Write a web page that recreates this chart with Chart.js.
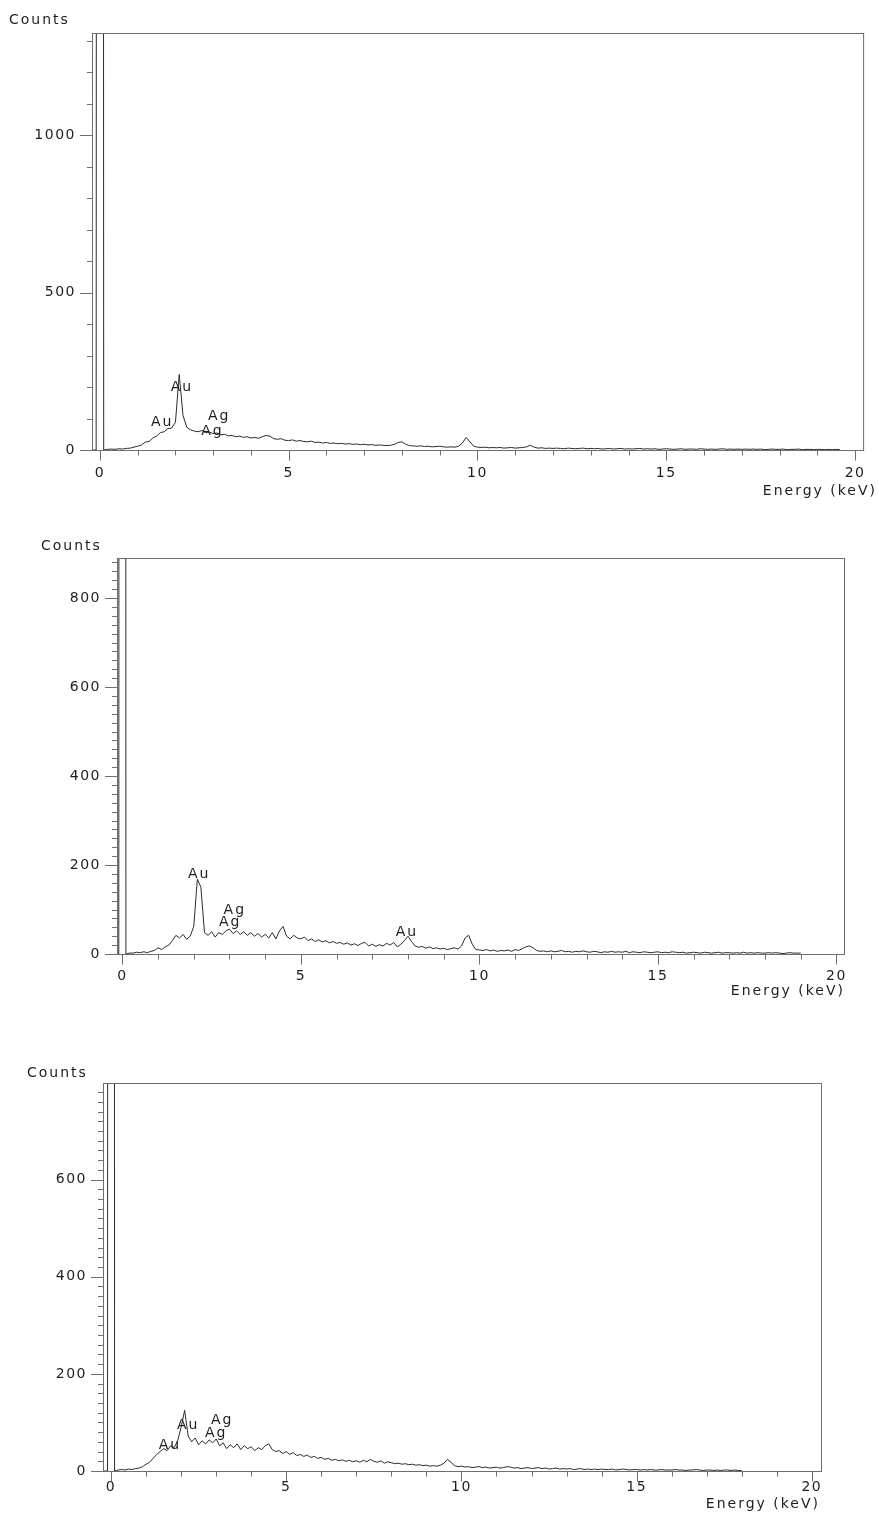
<!DOCTYPE html>
<html>
<head>
<meta charset="utf-8">
<script src="https://cdn.jsdelivr.net/npm/chart.js@4/dist/chart.umd.min.js"></script>
<style>
  body { margin: 0; background: #fff; }
  #wrap { position: relative; width: 879px; height: 1514px; overflow: hidden; }
  canvas { position: absolute; left: 0; }
  .title { position: absolute; font: 14px "DejaVu Sans", sans-serif; letter-spacing: 2px; color: #1e1e1e; white-space: nowrap; line-height: 16px; }
</style>
</head>
<body>
<div id="wrap">
  <canvas id="c1" width="879" height="510"></canvas>
  <canvas id="c2" width="879" height="490"></canvas>
  <canvas id="c3" width="879" height="474"></canvas>
  <div class="title" style="left:9px;top:11px">Counts</div>
  <div class="title" style="right:2px;top:482px">Energy (keV)</div>
  <div class="title" style="left:41px;top:537px">Counts</div>
  <div class="title" style="right:34px;top:982px">Energy (keV)</div>
  <div class="title" style="left:27px;top:1064px">Counts</div>
  <div class="title" style="right:59px;top:1495px">Energy (keV)</div>
</div>
<script>
// channel calibration: first channel energy and width (keV)
const startEnergy = -0.2;
const energyStep = 0.1;

// tick labels
const xLabels = [0, 5, 10, 15, 20];
const yLabels1 = [0, 500, 1000];
const yLabels2 = [0, 200, 400, 600, 800];
const yLabels3 = [0, 200, 400, 600];

// spectrum 1 (counts per 0.1 keV channel, from -0.2 keV)
const counts1 = [
  0, 0,
  30000, 0, 2, 3, 2, 4, 3, 5, 6, 9,
  12, 16, 25, 27, 38, 44, 55, 58, 68, 70,
  88, 240, 110, 72, 64, 60, 58, 62, 55, 57,
  52, 54, 48, 50, 45, 46, 42, 44, 40, 42,
  38, 40, 37, 42, 46, 44, 36, 34, 36, 31,
  30, 32, 28, 30, 27, 26, 28, 24, 25, 22,
  24, 21, 22, 20, 21, 19, 20, 18, 19, 17,
  18, 16, 17, 15, 16, 15, 14, 15, 18, 24,
  26, 18, 14, 13, 12, 13, 11, 12, 10, 11,
  12, 10, 9, 10, 9, 12, 22, 40, 26, 12,
  9, 8, 9, 7, 8, 7, 8, 6, 7, 8,
  6, 7, 8, 10, 15, 9, 6, 7, 5, 6,
  5, 6, 5, 4, 6, 5, 4, 5, 6, 4,
  5, 4, 5, 3, 4, 5, 3, 4, 5, 3,
  4, 3, 4, 5, 3, 4, 3, 4, 2, 3,
  4, 3, 2, 3, 4, 2, 3, 3, 2, 4,
  3, 2, 3, 2, 3, 4, 2, 3, 2, 3,
  2, 3, 2, 3, 2, 3, 1, 2, 3, 2,
  2, 3, 1, 2, 2, 3, 1, 2, 2, 1,
  2, 2, 1, 2, 1, 2, 1,
];

// spectrum 2
const counts2 = [
  0, 0,
  30000, 0, 2, 2, 4, 3, 5, 3, 6, 8,
  14, 10, 16, 20, 30, 42, 36, 44, 33, 40,
  62, 168, 150, 48, 42, 50, 38, 48, 44, 52,
  56, 46, 52, 44, 50, 42, 48, 40, 46, 38,
  44, 36, 48, 34, 52, 62, 40, 34, 42, 36,
  34, 38, 30, 34, 28, 32, 27, 30, 25, 28,
  24, 26, 22, 25, 20, 23, 19, 24, 26, 18,
  22, 17, 21, 18, 24, 20, 26, 16, 22, 30,
  40, 28, 18, 15, 17, 13, 16, 12, 14, 11,
  13, 10, 12, 14, 11, 18, 36, 42, 22, 10,
  9, 8, 10, 7, 9, 6, 8, 7, 9, 6,
  10, 8, 12, 16, 18, 14, 8, 6, 7, 5,
  7, 5, 6, 8, 5, 6, 4, 6, 5, 7,
  5, 4, 6, 5, 3, 5, 4, 6, 4, 5,
  4, 6, 3, 5, 4, 3, 5, 4, 3, 4,
  5, 3, 4, 3, 5, 4, 3, 4, 2, 3,
  4, 3, 2, 4, 3, 2, 3, 4, 2, 3,
  3, 2, 3, 2, 4, 2, 3, 2, 3, 2,
  2, 3, 2, 3, 2, 1, 2, 3, 2, 2,
  2,
];

// spectrum 3
const counts3 = [
  0, 0,
  30000, 0, 2, 3, 2, 4, 3, 5, 6, 9,
  14, 18, 26, 34, 40, 46, 42, 52, 48, 62,
  90, 125, 72, 60, 68, 54, 62, 56, 64, 58,
  66, 52, 58, 46, 54, 48, 56, 44, 52, 46,
  50, 42, 48, 44, 52, 56, 44, 40, 42, 36,
  40, 34, 38, 32, 34, 30, 33, 28, 30, 26,
  28, 24, 26, 22, 24, 21, 23, 20, 22, 19,
  21, 18, 22, 19, 24, 20, 18, 21, 16, 19,
  17, 15, 16, 14, 15, 13, 14, 12, 13, 11,
  12, 10, 11, 10, 12, 16, 24, 18, 11, 9,
  10, 8, 9, 7, 8, 9, 7, 8, 6, 7,
  8, 6, 7, 9, 8, 6, 7, 5, 6, 7,
  5, 6, 7, 5, 6, 4, 5, 6, 4, 5,
  4, 5, 3, 4, 5, 3, 4, 3, 4, 3,
  4, 3, 3, 4, 2, 3, 4, 3, 2, 3,
  3, 2, 3, 2, 3, 2, 2, 3, 2, 2,
  2, 3, 2, 2, 1, 2, 2, 3, 2, 1,
  2, 2, 1, 2, 1, 2, 2, 1, 2, 1,
  1,
];

// peak identifications (energy keV, counts)
const peaks1 = [
  { text: 'Au', x: 2.17, y: 200 },
  { text: 'Au', x: 1.65, y: 88 },
  { text: 'Ag', x: 3.16, y: 106 },
  { text: 'Ag', x: 2.98, y: 58 },
];
const peaks2 = [
  { text: 'Au', x: 2.15, y: 178 },
  { text: 'Ag', x: 3.15, y: 99 },
  { text: 'Ag', x: 3.02, y: 72 },
  { text: 'Au', x: 7.97, y: 49 },
];
const peaks3 = [
  { text: 'Au', x: 2.2, y: 95 },
  { text: 'Au', x: 1.68, y: 52 },
  { text: 'Ag', x: 3.17, y: 105 },
  { text: 'Ag', x: 3.0, y: 78 },
];

const FONT = { family: 'DejaVu Sans', size: 14 };
const INK = '#1e1e1e';

const panels = [
  { id: 'c1', counts: counts1, peaks: peaks1, yLabels: yLabels1, yMinor: 100, xMin: -0.21, xMax: 20.24, yMax: 1324,
    xPad: 15, top: 0, height: 510, area: { left: 92, top: 33, right: 874, bottom: 450 } },
  { id: 'c2', counts: counts2, peaks: peaks2, yLabels: yLabels2, yMinor: 20, xMin: -0.15, xMax: 20.24, yMax: 890,
    xPad: 14, top: 520, height: 490, area: { left: 117, top: 558, right: 845, bottom: 954 } },
  { id: 'c3', counts: counts3, peaks: peaks3, yLabels: yLabels3, yMinor: 20, xMin: -0.23, xMax: 20.29, yMax: 799,
    xPad: 8, top: 1040, height: 474, area: { left: 103, top: 1083, right: 822, bottom: 1471 } },
];

function framePlugin(p) {
  return {
    id: 'frame',
    beforeDraw(chart) { chart.ctx.letterSpacing = '1.5px'; },
    afterDraw(chart) {
      const { ctx, chartArea: a, scales: { x, y } } = chart;
      ctx.save();
      ctx.strokeStyle = '#6e6e6e';
      ctx.lineWidth = 1;
      ctx.strokeRect(a.left + 0.5, a.top + 0.5, a.right - a.left - 1, a.bottom - a.top);
      ctx.beginPath();
      x.ticks.forEach(t => {
        const px = Math.round(x.getPixelForValue(t.value)) + 0.5;
        const len = xLabels.includes(t.value) ? 10 : 5;
        ctx.moveTo(px, a.bottom + 0.5);
        ctx.lineTo(px, a.bottom + 0.5 + len);
      });
      y.ticks.forEach(t => {
        const py = Math.round(y.getPixelForValue(t.value)) + 0.5;
        const len = p.yLabels.includes(t.value) ? 12 : 5;
        ctx.moveTo(a.left - len, py);
        ctx.lineTo(a.left, py);
      });
      ctx.stroke();

      ctx.font = '14px "DejaVu Sans"';
      ctx.letterSpacing = '2px';
      ctx.fillStyle = INK;
      ctx.textAlign = 'center';
      ctx.textBaseline = 'middle';
      p.peaks.forEach(pk => ctx.fillText(pk.text, x.getPixelForValue(pk.x), y.getPixelForValue(pk.y)));
      ctx.restore();
    },
  };
}

function makeChart(p) {
  const canvas = document.getElementById(p.id);
  canvas.style.top = p.top + 'px';
  const points = p.counts.map((c, i) => ({ x: startEnergy + i * energyStep, y: c }));
  new Chart(canvas, {
    type: 'line',
    data: {
      datasets: [{
        data: points,
        borderColor: '#2b2b2b',
        borderWidth: 1,
        pointRadius: 0,
        tension: 0,
        fill: false,
      }],
    },
    options: {
      responsive: false,
      animation: false,
      events: [],
      layout: { padding: { top: p.area.top - p.top, right: 879 - p.area.right, left: 0, bottom: 0 } },
      plugins: { legend: { display: false }, tooltip: { enabled: false } },
      scales: {
        x: {
          type: 'linear',
          min: p.xMin,
          max: p.xMax,
          grid: { display: false, drawTicks: false },
          border: { display: false },
          afterBuildTicks: s => {
            const ticks = [];
            for (let v = 0; v <= Math.floor(p.xMax); v++) ticks.push({ value: v });
            s.ticks = ticks;
          },
          ticks: {
            autoSkip: false, maxRotation: 0, padding: p.xPad, color: INK, font: FONT,
            callback: v => xLabels.includes(v) ? String(v) : '',
          },
          afterFit: s => { s.height = p.height - (p.area.bottom - p.top); },
        },
        y: {
          type: 'linear',
          min: 0,
          max: p.yMax,
          grid: { display: false, drawTicks: false },
          border: { display: false },
          afterBuildTicks: s => {
            const ticks = [];
            for (let v = 0; v <= p.yMax; v += p.yMinor) ticks.push({ value: v });
            s.ticks = ticks;
          },
          ticks: {
            autoSkip: false, padding: 16, color: INK, font: FONT,
            callback: v => p.yLabels.includes(v) ? String(v) : '',
          },
          afterFit: s => { s.width = p.area.left; },
        },
      },
    },
    plugins: [framePlugin(p)],
  });
}

panels.forEach(makeChart);
</script>
</body>
</html>
